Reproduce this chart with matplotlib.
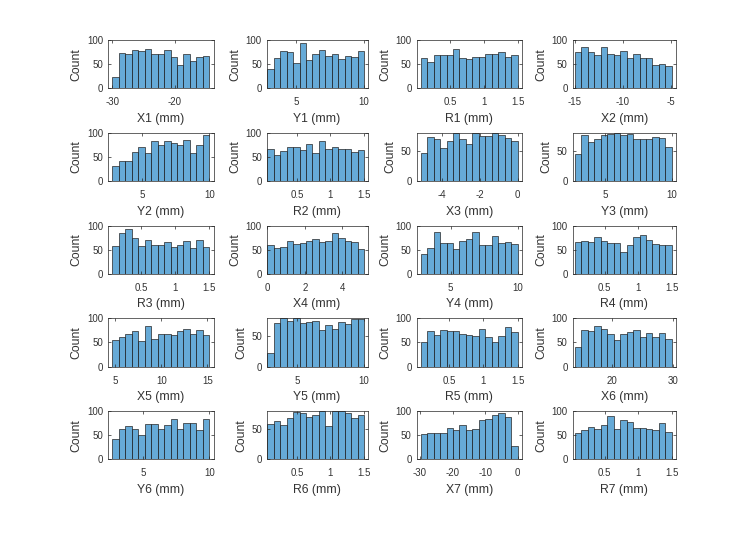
import numpy as np
import matplotlib
matplotlib.use('Agg')
import matplotlib.pyplot as plt

plt.rcParams['font.family'] = ['Liberation Sans', 'DejaVu Sans']
plt.rcParams['axes.unicode_minus'] = False

# counts per bin (15 bins each)
x1 = [23, 74, 71, 80, 78, 82, 71, 71, 80, 64, 48, 70, 56, 64, 67]
y1 = [40, 62, 77, 76, 52, 93, 59, 70, 79, 66, 71, 60, 66, 64, 78]
r1 = [63, 55, 69, 69, 68, 81, 62, 60, 64, 64, 71, 71, 76, 64, 68]
x2 = [76, 85, 75, 69, 85, 71, 69, 78, 62, 71, 62, 62, 48, 50, 47]
y2 = [31, 42, 42, 60, 70, 59, 82, 75, 82, 79, 75, 84, 59, 74, 96]
r2 = [67, 54, 63, 70, 70, 65, 77, 59, 82, 67, 70, 66, 67, 61, 65]
x3 = [47, 73, 69, 54, 67, 80, 69, 61, 80, 75, 74, 79, 77, 71, 67]
y3 = [44, 77, 65, 69, 77, 78, 80, 76, 78, 69, 69, 69, 73, 71, 57]
r3 = [57, 84, 92, 75, 57, 70, 60, 60, 66, 55, 59, 67, 53, 70, 55]
x4 = [59, 53, 55, 67, 61, 63, 67, 72, 66, 68, 84, 74, 68, 66, 52]
y4 = [41, 54, 86, 63, 63, 52, 68, 72, 86, 59, 59, 79, 63, 66, 61]
r4 = [66, 68, 66, 77, 67, 63, 63, 45, 59, 77, 81, 70, 61, 59, 59]
x5 = [54, 61, 67, 73, 52, 84, 58, 68, 68, 65, 73, 77, 67, 75, 66]
y5 = [22, 72, 80, 76, 80, 72, 73, 76, 61, 68, 63, 74, 70, 79, 79]
r5 = [51, 73, 65, 75, 73, 73, 68, 66, 63, 78, 61, 51, 63, 82, 71]
x6 = [41, 75, 73, 84, 77, 68, 54, 68, 71, 75, 61, 70, 61, 70, 58]
y6 = [43, 63, 69, 63, 50, 74, 73, 62, 72, 83, 62, 75, 75, 61, 83]
r6 = [59, 63, 57, 68, 79, 76, 70, 74, 80, 55, 80, 80, 77, 68, 74]
x7 = [52, 54, 55, 54, 64, 60, 70, 61, 62, 81, 83, 92, 95, 88, 28]
r7 = [54, 60, 67, 63, 71, 90, 62, 81, 78, 64, 64, 62, 60, 75, 57]

# first and last bin edge of each histogram
x1_rng = (-30, -14.5)
y1_rng = (2.87, 10)
r1_rng = (0.06, 1.5)
x2_rng = (-15, -4.9)
y2_rng = (2.74, 10)
r2_rng = (0.06, 1.5)
x3_rng = (-5.15, 0)
y3_rng = (2.77, 10)
r3_rng = (0.08, 1.5)
x4_rng = (0, 5.15)
y4_rng = (2.76, 10)
r4_rng = (0.06, 1.5)
x5_rng = (4.65, 15.2)
y5_rng = (2.79, 10)
r5_rng = (0.09, 1.5)
x6_rng = (13.9, 29.75)
y6_rng = (2.68, 10)
r6_rng = (0.06, 1.5)
x7_rng = (-29.8, 0)
r7_rng = (0.06, 1.5)

# x tick values
x1_ticks = [-30, -20]
x2_ticks = [-15, -10, -5]
x3_ticks = [-4, -2, 0]
x4_ticks = [0, 2, 4]
x5_ticks = [5, 10, 15]
x6_ticks = [20, 30]
x7_ticks = [-30, -20, -10, 0]
y_ticks = [5, 10]
r_ticks = [0.5, 1, 1.5]

panels = [
    ('X1', x1, x1_rng, x1_ticks), ('Y1', y1, y1_rng, y_ticks),
    ('R1', r1, r1_rng, r_ticks), ('X2', x2, x2_rng, x2_ticks),
    ('Y2', y2, y2_rng, y_ticks), ('R2', r2, r2_rng, r_ticks),
    ('X3', x3, x3_rng, x3_ticks), ('Y3', y3, y3_rng, y_ticks),
    ('R3', r3, r3_rng, r_ticks), ('X4', x4, x4_rng, x4_ticks),
    ('Y4', y4, y4_rng, y_ticks), ('R4', r4, r4_rng, r_ticks),
    ('X5', x5, x5_rng, x5_ticks), ('Y5', y5, y5_rng, y_ticks),
    ('R5', r5, r5_rng, r_ticks), ('X6', x6, x6_rng, x6_ticks),
    ('Y6', y6, y6_rng, y_ticks), ('R6', r6, r6_rng, r_ticks),
    ('X7', x7, x7_rng, x7_ticks), ('R7', r7, r7_rng, r_ticks),
]

W, H = 747, 537
fig = plt.figure(figsize=(W / 100, H / 100), dpi=100)

# subplot grid in pixels
col_left = [108, 266.7, 416.5, 572.5]
col_right = [213.5, 367.5, 522, 676]
col_pad = [(0.044, 0.043), (0.006, 0.036), (0.043, 0.044), (0.026, 0.044)]
row_bottom0 = 88.3
row_step = 92.75
ax_h = 48.3

face = (0, 0.447, 0.741, 0.6)
dark = '#262626'
txt = '#333333'

for k, (name, cnt, (lo, hi), ticks) in enumerate(panels):
    r, c = divmod(k, 4)
    bottom = row_bottom0 + row_step * r
    ax = fig.add_axes([col_left[c] / W, 1 - bottom / H,
                       (col_right[c] - col_left[c]) / W, ax_h / H])
    edges = np.linspace(lo, hi, len(cnt) + 1)
    ax.hist(edges[:-1], bins=edges, weights=cnt, facecolor=face,
            edgecolor=dark, linewidth=0.5)

    span = hi - lo
    ax.set_xlim(lo - col_pad[c][0] * span, hi + col_pad[c][1] * span)
    top = 20 * np.ceil(max(cnt) / 20)
    ax.set_ylim(0, top)
    yt = [t for t in (0, 50, 100) if t <= top]
    ax.set_yticks(yt)
    ax.set_yticklabels([str(t) for t in yt])
    ax.set_xticks(ticks)
    ax.set_xticklabels([f'{t:g}' for t in ticks])

    ax.tick_params(direction='in', top=True, right=True, length=2, width=0.5,
                   labelsize=7, color=dark, labelcolor=txt)
    ax.tick_params(axis='x', pad=6.5)
    ax.tick_params(axis='y', pad=3.5)
    for s in ax.spines.values():
        s.set_linewidth(0.5)
        s.set_color(dark)
    ax.set_xlabel(f'{name} (mm)', fontsize=8.8, color=txt, labelpad=4)
    ax.set_ylabel('Count', fontsize=8.8, color=txt, labelpad=3)

fig.savefig('out.png', dpi=100)
